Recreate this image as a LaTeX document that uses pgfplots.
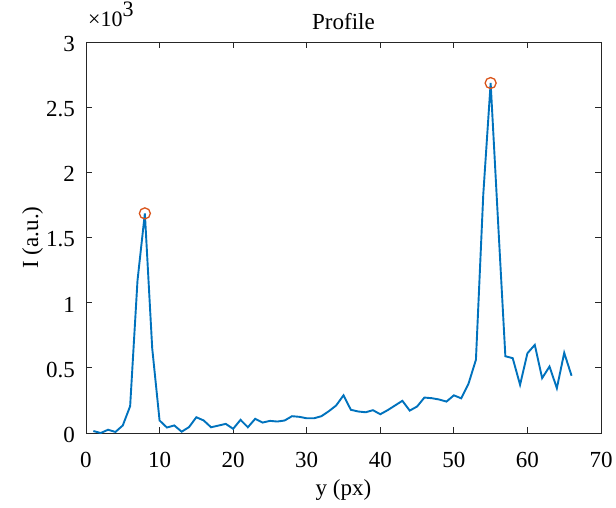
\documentclass[border=0pt]{standalone}
\usepackage{fontspec}
\setmainfont{Liberation Serif}
\usepackage{pgfplots}
\pgfplotsset{compat=1.18}
\definecolor{mblue}{rgb}{0,0.447,0.741}
\definecolor{morange}{rgb}{0.85,0.325,0.098}
\definecolor{axgray}{rgb}{0.15,0.15,0.15}
\begin{document}
\begin{tikzpicture}
\begin{axis}[
  scale only axis, width=515pt, height=391pt,
  xmin=0, xmax=70, ymin=0, ymax=3000,
  xtick={0,10,...,70}, ytick={0,500,...,3000},
  yticklabels={0,0.5,1,1.5,2,2.5,3},
  scaled y ticks=false,
  tick align=inside, major tick length=6pt,
  axis line style={axgray, line width=0.9pt},
  tick style={axgray, line width=0.9pt},
  /pgf/number format/assume math mode=true,
  every tick label/.append style={font=\fontsize{23}{27}\selectfont, text=black},
  xticklabel style={inner sep=0pt, anchor=north, yshift=-19pt},
  yticklabel style={inner sep=0pt, anchor=east, xshift=-11pt, yshift=-2pt},
  xlabel={y (px)}, ylabel={I (a.u.)},
  label style={font=\fontsize{23}{27}\selectfont},
  xlabel style={at={(axis description cs:0.5,-0.1586)}, anchor=base, inner sep=0pt},
  ylabel style={at={(axis description cs:-0.0932,0.5)}, anchor=base, inner sep=0pt},
  clip=false,
]
\addplot[mblue, line width=1.9pt] coordinates {
(1,15)(2,0)(3,25)(4,8)(5,58)(6,206)(7,1170)(8,1685)(9,650)(10,96)
(11,42)(12,58)(13,10)(14,45)(15,121)(16,96)(17,44)(18,57)(19,70)(20,32)
(21,101)(22,44)(23,109)(24,80)(25,93)(26,88)(27,96)(28,129)(29,124)(30,113)
(31,113)(32,129)(33,167)(34,211)(35,289)(36,178)(37,165)(38,159)(39,175)(40,144)
(41,175)(42,211)(43,247)(44,172)(45,203)(46,272)(47,267)(48,257)(49,241)(50,289)
(51,266)(52,380)(53,562)(54,1832)(55,2685)(56,1630)(57,589)(58,574)(59,370)(60,612)
(61,676)(62,421)(63,510)(64,344)(65,615)(66,439)
};
\addplot[only marks, mark=o, mark size=5.5pt, morange, mark options={line width=1.3pt}] coordinates {(8,1685)(55,2685)};
\coordinate (bl) at (rel axis cs:0,0);
\coordinate (tr) at (rel axis cs:1,1);
\coordinate (tl) at (rel axis cs:0,1);
\node[anchor=base, inner sep=0pt, font=\fontsize{23}{27}\selectfont] at ([yshift=12pt]rel axis cs:0.5,1) {Profile};
\node[anchor=base west, inner sep=0pt, font=\fontsize{22}{26}\selectfont] at ([shift={(2pt,15pt)}]tl) {×10\raisebox{10pt}{3}};
\end{axis}
\pgfresetboundingbox
\path[use as bounding box] ([shift={(-86pt,-74pt)}]bl) rectangle ([shift={(15pt,42pt)}]tr);
\end{tikzpicture}
\end{document}
